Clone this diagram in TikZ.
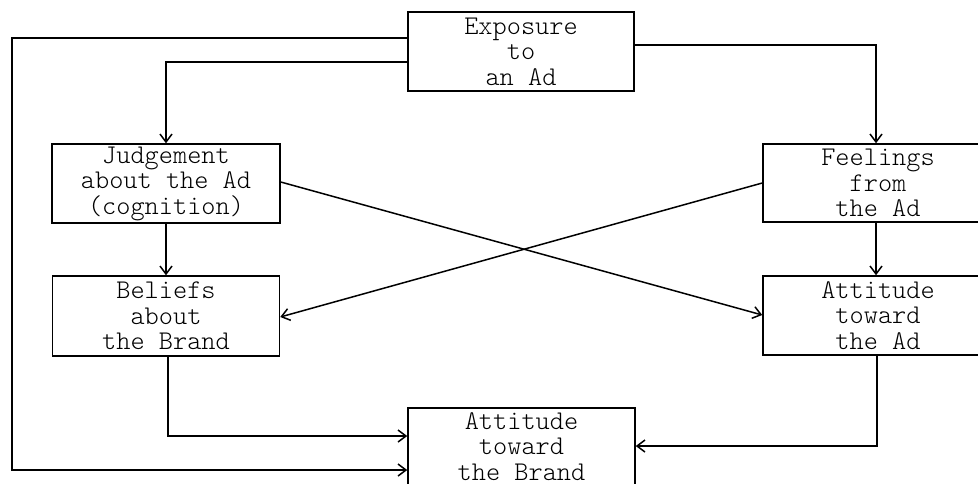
\documentclass[tikz,border=0pt]{standalone}
\usepackage{fontspec}
\newfontfamily\boxfont{Latin Modern Mono Light}
\usetikzlibrary{arrows.meta}
\begin{document}
\begin{tikzpicture}[x=1pt,y=-1pt,
  box/.style={draw,line width=1.5pt,fill=white,align=center,inner sep=0pt,
    font=\boxfont\fontsize{27}{25.5}\selectfont},
  conn/.style={line width=1.5pt},
  arr/.style={conn,-{Straight Barb[length=8pt,width=12pt,line width=1.5pt]}}]
\useasboundingbox (0,0) rectangle (978,483);
\clip (0,0) rectangle (978,483);
\fill[white] (0,0) rectangle (978,483);
\node[box,minimum width=226pt,minimum height=79pt] (expo) at (521,51.5) {Exposure\\to\\an Ad};
\node[box,minimum width=228pt,minimum height=79pt] (judg) at (166,183.5) {Judgement\\about the Ad\\(cognition)};
\node[box,minimum width=230pt,minimum height=78pt] (feel) at (878,183) {Feelings\\from\\the Ad};
\node[box,minimum width=227pt,minimum height=80pt] (beli) at (166,316) {Beliefs\\about\\the Brand};
\node[box,minimum width=230pt,minimum height=79pt] (attad) at (878,315.5) {Attitude\\toward\\the Ad};
\node[box,minimum width=227pt,minimum height=77pt] (attbr) at (521.5,446.5) {Attitude\\toward\\the Brand};
\coordinate (lft) at (12,38);
\coordinate (lbot) at (12,470);
% Exposure -> far left -> Attitude Brand
\draw[arr] (expo.west |- lft) -- (lft) -- (lbot) -- (attbr.west |- lbot);
% Exposure -> Judgement
\coordinate (j1) at (166,62);
\draw[arr] (expo.west |- j1) -- (j1) -- (judg.north);
% Exposure -> Feelings
\coordinate (f1) at (876,45);
\draw[arr] (expo.east |- f1) -- (f1) -- (feel.north -| f1);
% Judgement -> Beliefs
\draw[arr] (judg.south) -- (beli.north);
% Feelings -> Attitude Ad
\draw[arr] (feel.south -| f1) -- (attad.north -| f1);
% crossing diagonals
\coordinate (d1) at (280,182);
\coordinate (d2) at (763,315);
\coordinate (d3) at (763,183);
\coordinate (d4) at (280,317);
\draw[arr] (judg.east |- d1) -- (attad.west |- d2);
\draw[arr] (feel.west |- d3) -- (beli.east |- d4);
% Beliefs -> Attitude Brand
\coordinate (b1) at (168,436);
\draw[arr] (beli.south -| b1) -- (b1) -- (attbr.west |- b1);
% Attitude Ad -> Attitude Brand
\coordinate (a1) at (877,446);
\draw[arr] (attad.south -| a1) -- (a1) -- (attbr.east |- a1);
\end{tikzpicture}
\end{document}
